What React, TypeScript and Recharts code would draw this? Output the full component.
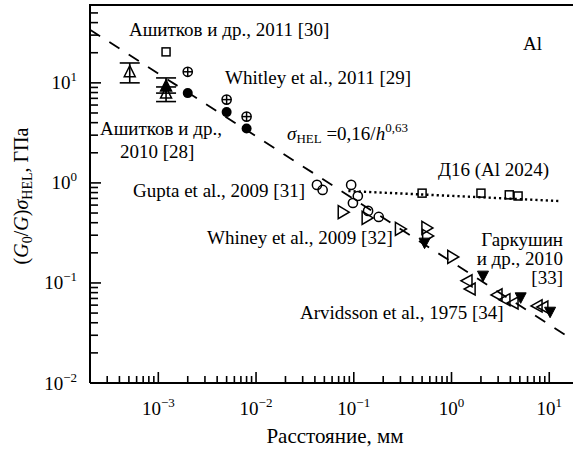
import React from "react";
import { ScatterChart, Scatter, XAxis, YAxis, ErrorBar } from "recharts";

// distance, mm / stress, GPa
const ashitkov2011 = [{ x: 1.2e-3, y: 20.4 }];
const ashitkov2010 = [
  { x: 2.0e-3, y: 7.9 },
  { x: 5.0e-3, y: 5.1 },
  { x: 8.0e-3, y: 3.5 },
];
const whitley2011 = [
  { x: 2.0e-3, y: 12.9 },
  { x: 5.0e-3, y: 6.8 },
  { x: 8.0e-3, y: 4.6 },
];
const openTriangles = [
  { x: 5.1e-4, y: 12.9, err: [2.9, 2.9] },
  { x: 1.2e-3, y: 7.9, err: [1.4, 1.2] },
];
const filledTriangles = [{ x: 1.2e-3, y: 9.3, err: [1.4, 1.9] }];
const gupta2009 = [
  { x: 0.042, y: 0.955 },
  { x: 0.048, y: 0.85 },
  { x: 0.094, y: 0.955 },
  { x: 0.11, y: 0.74 },
  { x: 0.098, y: 0.63 },
  { x: 0.14, y: 0.525 },
  { x: 0.18, y: 0.457 },
];
const whiney2009 = [
  { x: 0.078, y: 0.51 },
  { x: 0.137, y: 0.447 },
  { x: 0.3, y: 0.347 },
  { x: 0.56, y: 0.355 },
  { x: 0.57, y: 0.295 },
  { x: 1.03, y: 0.182 },
];
const arvidsson1975 = [
  { x: 1.44, y: 0.105 },
  { x: 1.55, y: 0.087 },
  { x: 2.92, y: 0.076 },
  { x: 3.52, y: 0.068 },
  { x: 4.26, y: 0.063 },
  { x: 7.5, y: 0.059 },
  { x: 8.6, y: 0.0575 },
];
const garkushin2010 = [
  { x: 0.53, y: 0.25 },
  { x: 2.1, y: 0.117 },
  { x: 5.1, y: 0.071 },
  { x: 10.2, y: 0.051 },
];
const d16 = [
  { x: 0.5, y: 0.79 },
  { x: 2.0, y: 0.79 },
  { x: 3.9, y: 0.76 },
  { x: 4.8, y: 0.74 },
];
const d16Line = [
  { x: 0.088, y: 0.83 },
  { x: 12.4, y: 0.66 },
];
const fitLine = [
  { x: 2e-4, y: 34 },
  { x: 17.5, y: 0.027 },
];

const xDecades = [1e-4, 1e-3, 1e-2, 1e-1, 1, 10];
const yDecades = [1e-2, 1e-1, 1, 10];
const mantissas = [1, 2, 3, 4, 5, 6, 7, 8, 9];
const xDomain = [2e-4, 17.5];
const yDomain = [0.01, 60];

const inRange = (v: number, d: number[]) => v >= d[0] * 0.999 && v <= d[1] * 1.001;
const xTicks = xDecades.flatMap((d) => mantissas.map((m) => m * d)).filter((v) => inRange(v, xDomain));
const yTicks = yDecades.flatMap((d) => mantissas.map((m) => m * d)).filter((v) => inRange(v, yDomain));

const isMajor = (v: number) => Math.abs(Math.log10(v) - Math.round(Math.log10(v))) < 1e-6;
const expText = (v: number) => {
  const e = Math.round(Math.log10(v));
  return e < 0 ? "\u2212" + Math.abs(e) : String(e);
};

const FONT = "Liberation Serif";

const XTick = (props: any) => {
  const { x, y, payload } = props;
  const major = isMajor(payload.value);
  return (
    <g>
      <line x1={x} x2={x} y1={y} y2={y - (major ? 11 : 7)} stroke="#000" strokeWidth={1.6} />
      {major && (
        <text x={x} y={y + 32} textAnchor="middle" fontSize={19} fontFamily={FONT} fill="#000">
          10
          <tspan dy={-8} fontSize={13}>
            {expText(payload.value)}
          </tspan>
        </text>
      )}
    </g>
  );
};

const YTick = (props: any) => {
  const { x, y, payload } = props;
  const major = isMajor(payload.value);
  return (
    <g>
      <line x1={x} x2={x + (major ? 11 : 8)} y1={y} y2={y} stroke="#000" strokeWidth={1.6} />
      {major && (
        <text x={x - 13} y={y + 6.5} textAnchor="end" fontSize={19} fontFamily={FONT} fill="#000">
          10
          <tspan dy={-8} fontSize={13}>
            {expText(payload.value)}
          </tspan>
        </text>
      )}
    </g>
  );
};

const S = "#000";
const SW = 1.5;

const OpenSquare = ({ cx, cy }: any) => (
  <rect x={cx - 4} y={cy - 4} width={8} height={8} fill="none" stroke={S} strokeWidth={SW} />
);
const FilledCircle = ({ cx, cy }: any) => <circle cx={cx} cy={cy} r={5} fill={S} />;
const OpenCircle = ({ cx, cy }: any) => <circle cx={cx} cy={cy} r={4.6} fill="none" stroke={S} strokeWidth={SW} />;
const CrossCircle = ({ cx, cy }: any) => (
  <g stroke={S} strokeWidth={SW} fill="none">
    <circle cx={cx} cy={cy} r={4.6} />
    <line x1={cx - 4.6} x2={cx + 4.6} y1={cy} y2={cy} />
    <line x1={cx} x2={cx} y1={cy - 4.6} y2={cy + 4.6} />
  </g>
);
const UpTriangle = ({ cx, cy, fill }: any) => (
  <polygon
    points={`${cx},${cy - 6} ${cx - 5.5},${cy + 5} ${cx + 5.5},${cy + 5}`}
    fill={fill}
    stroke={S}
    strokeWidth={SW}
  />
);
const RightTriangle = ({ cx, cy }: any) => (
  <polygon
    points={`${cx - 5},${cy - 6.5} ${cx - 5},${cy + 6.5} ${cx + 6},${cy}`}
    fill="none"
    stroke={S}
    strokeWidth={SW}
  />
);
const LeftTriangle = ({ cx, cy }: any) => (
  <polygon
    points={`${cx + 5},${cy - 6} ${cx + 5},${cy + 6} ${cx - 6},${cy}`}
    fill="none"
    stroke={S}
    strokeWidth={SW}
  />
);
const DownTriangle = ({ cx, cy }: any) => (
  <polygon points={`${cx - 5.5},${cy - 5} ${cx + 5.5},${cy - 5} ${cx},${cy + 5.5}`} fill={S} stroke={S} strokeWidth={1} />
);
const Nothing = () => <g />;

export default function App() {
  return (
    <div style={{ position: "absolute", left: 0, top: 0, width: 573, height: 452, background: "#fff", fontFamily: FONT }}>
      <ScatterChart width={573} height={452} margin={{ top: 5, right: 0, bottom: 0, left: 0 }}>
        <XAxis
          type="number"
          dataKey="x"
          scale="log"
          domain={xDomain}
          allowDataOverflow
          ticks={xTicks}
          interval={0}
          tickSize={0}
          tickMargin={0}
          tickLine={false}
          tick={<XTick />}
          height={69}
          axisLine={{ stroke: "#000", strokeWidth: 2 }}
        />
        <YAxis
          type="number"
          dataKey="y"
          scale="log"
          domain={yDomain}
          allowDataOverflow
          ticks={yTicks}
          interval={0}
          tickSize={0}
          tickMargin={0}
          tickLine={false}
          tick={<YTick />}
          width={90}
          axisLine={{ stroke: "#000", strokeWidth: 2 }}
        />
        <Scatter
          data={fitLine}
          line={{ stroke: "#000", strokeWidth: 1.8, strokeDasharray: "12 11" }}
          shape={Nothing}
          isAnimationActive={false}
        />
        <Scatter
          data={d16Line}
          line={{ stroke: "#000", strokeWidth: 2.4, strokeDasharray: "2.2 3" }}
          shape={Nothing}
          isAnimationActive={false}
        />
        <Scatter data={ashitkov2011} shape={OpenSquare} isAnimationActive={false} />
        <Scatter data={ashitkov2010} shape={FilledCircle} isAnimationActive={false} />
        <Scatter data={whitley2011} shape={CrossCircle} isAnimationActive={false} />
        <Scatter data={openTriangles} shape={(p: any) => <UpTriangle {...p} fill="none" />} isAnimationActive={false}>
          <ErrorBar dataKey="err" direction="y" width={10} stroke="#000" strokeWidth={1.6} isAnimationActive={false} />
        </Scatter>
        <Scatter data={filledTriangles} shape={(p: any) => <UpTriangle {...p} fill="#000" />} isAnimationActive={false}>
          <ErrorBar dataKey="err" direction="y" width={10} stroke="#000" strokeWidth={1.6} isAnimationActive={false} />
        </Scatter>
        <Scatter data={gupta2009} shape={OpenCircle} isAnimationActive={false} />
        <Scatter data={whiney2009} shape={RightTriangle} isAnimationActive={false} />
        <Scatter data={arvidsson1975} shape={LeftTriangle} isAnimationActive={false} />
        <Scatter data={garkushin2010} shape={DownTriangle} isAnimationActive={false} />
        <Scatter data={d16} shape={OpenSquare} isAnimationActive={false} />
      </ScatterChart>

      {/* frame top, annotations and axis titles */}
      <svg
        width={573}
        height={452}
        style={{ position: "absolute", left: 0, top: 0, pointerEvents: "none" }}
        fontFamily={FONT}
        fontSize={19}
        fill="#000"
      >
        <line x1={89} x2={573} y1={5} y2={5} stroke="#000" strokeWidth={2} />
        <text x={129} y={36}>Ашитков и др., 2011 [30]</text>
        <text x={523} y={50}>Al</text>
        <text x={225} y={84}>Whitley et al., 2011 [29]</text>
        <text x={287} y={140}>
          <tspan fontStyle="italic">σ</tspan>
          <tspan fontSize={13} dy={3}>HEL</tspan>
          <tspan dy={-3}> =0,16/</tspan>
          <tspan fontStyle="italic">h</tspan>
          <tspan fontSize={13} dy={-8}>0,63</tspan>
        </text>
        <text x={100} y={135}>Ашитков и др.,</text>
        <text x={120} y={158}>2010 [28]</text>
        <text x={438} y={176}>Д16 (Al 2024)</text>
        <text x={133} y={197}>Gupta et al., 2009 [31]</text>
        <text x={207} y={244}>Whiney et al., 2009 [32]</text>
        <text x={563} y={246} textAnchor="end">Гаркушин</text>
        <text x={563} y={265} textAnchor="end">и др., 2010</text>
        <text x={563} y={284} textAnchor="end">[33]</text>
        <text x={300} y={319}>Arvidsson et al., 1975 [34]</text>

        <text x={335} y={443} textAnchor="middle" fontSize={21}>
          Расстояние, мм
        </text>
        <text x={28} y={196} transform="rotate(-90 28 196)" textAnchor="middle" fontSize={20}>
          (<tspan fontStyle="italic">G</tspan>
          <tspan fontSize={14} dy={4}>0</tspan>
          <tspan dy={-4}>/</tspan>
          <tspan fontStyle="italic">G</tspan>
          <tspan>)</tspan>
          <tspan fontStyle="italic">σ</tspan>
          <tspan fontSize={14} dy={4}>HEL</tspan>
          <tspan dy={-4}>, ГПа</tspan>
        </text>
      </svg>
    </div>
  );
}
